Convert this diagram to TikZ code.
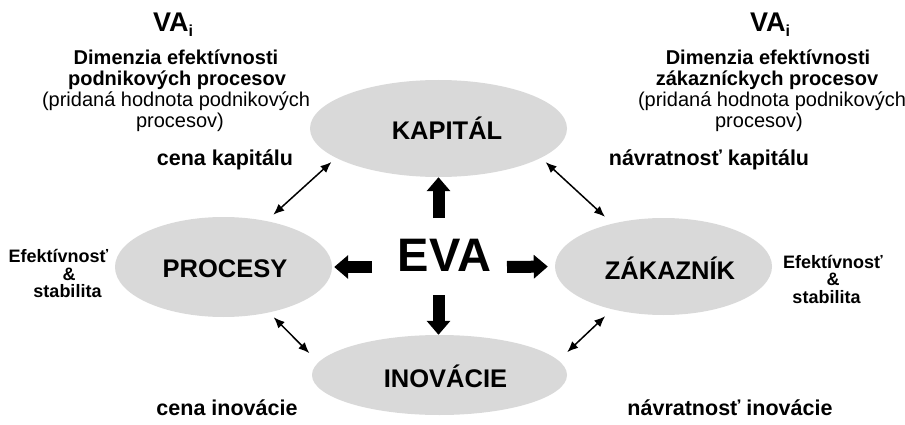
\documentclass[tikz,border=0pt]{standalone}
\usepackage{fontspec}
\setmainfont{Liberation Sans}
\usetikzlibrary{arrows.meta,shapes.geometric}
\definecolor{ellgray}{RGB}{217,217,217}
\begin{document}
\begin{tikzpicture}[x=1pt,y=-1pt,
  ell/.style={ellipse, fill=ellgray, draw=none, inner sep=0pt},
  lab/.style={inner sep=0pt, font=\fontsize{25.5}{28}\selectfont\bfseries, text height=18.3pt, text depth=0pt},
  bigarrow/.style={line width=12pt, -{Triangle[length=14pt,width=23pt]}},
  dblarrow/.style={line width=1.5pt, {Latex[length=11pt,width=9pt]}-{Latex[length=11pt,width=9pt]}},
  hd/.style={anchor=base, inner sep=0pt, font=\fontsize{20}{22}\selectfont\bfseries},
  subline/.style={anchor=base, inner sep=0pt, font=\fontsize{20}{22}\selectfont},
  lbl/.style={anchor=base, inner sep=0pt, font=\fontsize{21.5}{24}\selectfont\bfseries},
  sidetxt/.style={anchor=base, inner sep=0pt, font=\fontsize{18}{20}\selectfont\bfseries},
  vatxt/.style={anchor=base, inner sep=0pt, font=\fontsize{27}{30}\selectfont\bfseries}]
\useasboundingbox (0,0) rectangle (905,425);

% ellipses
\node[ell, minimum width=257pt, minimum height=97pt] (kap) at (438.5,128.5) {};
\node[ell, minimum width=217pt, minimum height=100pt] (pro) at (223.5,267) {};
\node[ell, minimum width=217pt, minimum height=97pt] (zak) at (663.5,266.5) {};
\node[ell, minimum width=255pt, minimum height=80pt] (ino) at (439.5,375) {};

% ellipse texts
\node[lab] (kapt) at (447,130) {KAPITÁL};
\node[lab] (prot) at (225,268.5) {PROCESY};
\node[lab] (zakt) at (670,270) {ZÁKAZNÍK};
\node[lab] (inot) at (445.5,378.5) {INOVÁCIE};

% EVA
\node[inner sep=0pt, font=\fontsize{47}{50}\selectfont\bfseries, text height=33.7pt, text depth=0pt] (eva) at (444.5,255) {EVA};

% block arrows
\coordinate (tu) at (438.5,218);
\coordinate (tl) at (372,267);
\coordinate (tr) at (507,267);
\coordinate (td) at (438.5,295);
\draw[bigarrow] (tu) -- (kap.south);
\draw[bigarrow, shorten >=2pt] (tl) -- (pro.east);
\draw[bigarrow, shorten >=7pt] (tr) -- (zak.west);
\draw[bigarrow] (td) -- (td |- ino.north);

% thin double arrows
\draw[dblarrow, shorten <=6.1pt, shorten >=9.2pt] (kap.196) -- (pro.47);
\draw[dblarrow, shorten <=6.2pt, shorten >=9.9pt] (kap.344) -- (zak.140);
\draw[dblarrow, shorten <=6.6pt, shorten >=12.8pt] (pro.315) -- (ino.174);
\draw[dblarrow, shorten <=9.8pt, shorten >=12pt] (zak.220) -- (ino.7);

% top left block
\node[vatxt] (vaL) at (173,32) {VA\raisebox{-5pt}{\fontsize{16}{16}\selectfont i}};
\node[hd] (l1) at (176,65) {Dimenzia efektívnosti};
\node[hd] (l2) at (177,86) {podnikových procesov};
\node[subline] (l3) at (176,107) {(pridaná hodnota podnikových};
\node[subline] (l4) at (180,128) {procesov)};

% top right block
\node[vatxt] (vaR) at (770,32) {VA\raisebox{-5pt}{\fontsize{16}{16}\selectfont i}};
\node[hd] (r1) at (768,65) {Dimenzia efektívnosti};
\node[hd] (r2) at (767,86) {zákazníckych procesov};
\node[subline] (r3) at (772,107) {(pridaná hodnota podnikových};
\node[subline] (r4) at (759,128) {procesov)};

% arrow labels
\node[lbl] (ck) at (225,166) {cena kapitálu};
\node[lbl] (nk) at (709,166) {návratnosť kapitálu};
\node[lbl] (ci) at (227,415) {cena inovácie};
\node[lbl] (ni) at (730,415) {návratnosť inovácie};

% side texts
\node[sidetxt] (ls1) at (58.5,262) {Efektívnosť};
\node[sidetxt] (ls2) at (69,280) {\&};
\node[sidetxt] (ls3) at (67.5,297) {stabilita};
\node[sidetxt] (rs1) at (833,268) {Efektívnosť};
\node[sidetxt] (rs2) at (833,285) {\&};
\node[sidetxt] (rs3) at (826.5,303) {stabilita};
\end{tikzpicture}
\end{document}
